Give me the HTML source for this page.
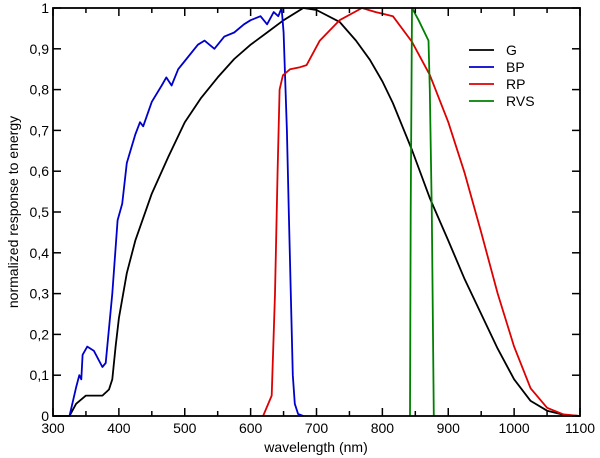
<!DOCTYPE html>
<html><head><meta charset="utf-8"><style>
body{margin:0;background:#fff}
svg{display:block;font-family:"Liberation Sans",sans-serif}
</style></head><body>
<svg id="chart" width="600" height="458"></svg>
<script>
const xTicks=[300,400,500,600,700,800,900,1000,1100];
const yTicks=[0,0.1,0.2,0.3,0.4,0.5,0.6,0.7,0.8,0.9,1];
const yTickLabels=["0","0,1","0,2","0,3","0,4","0,5","0,6","0,7","0,8","0,9","1"];
const gWl=[300,325,335,350,375,385,390,395,400,412,425,450,475,500,525,550,575,600,625,650,680,700,735,760,781,800,816,845,872,900,925,950,975,1000,1025,1050,1075,1100];
const gVal=[0,0,0.03,0.05,0.05,0.065,0.09,0.17,0.24,0.35,0.43,0.545,0.635,0.72,0.78,0.83,0.875,0.91,0.94,0.97,1.0,0.995,0.966,0.92,0.873,0.82,0.767,0.652,0.534,0.43,0.335,0.25,0.165,0.09,0.037,0.013,0.003,0];
const bpWl=[325,335,340,343,345,352,362,375,380,390,398,405,412,425,432,437,450,465,472,480,490,500,520,530,545,560,575,590,600,615,625,635,642,647,650,655,658,661,664,667,672,680];
const bpVal=[0,0.07,0.1,0.09,0.15,0.17,0.16,0.12,0.13,0.3,0.48,0.52,0.62,0.69,0.72,0.71,0.77,0.81,0.83,0.81,0.85,0.87,0.91,0.92,0.90,0.93,0.94,0.96,0.97,0.98,0.96,0.99,0.98,1.0,0.94,0.7,0.5,0.3,0.1,0.03,0.005,0];
const rpWl=[619,632,637,641,644,649,660,675,685,705,735,769,790,816,845,872,900,925,950,975,1000,1025,1050,1075,1100];
const rpVal=[0,0.05,0.3,0.6,0.8,0.835,0.85,0.855,0.86,0.92,0.97,1.0,0.99,0.98,0.917,0.836,0.72,0.595,0.45,0.30,0.17,0.068,0.02,0.004,0];
const rvsWl=[842,843,845,855,870,872,875,878];
const rvsVal=[0,0.5,1.0,0.97,0.92,0.8,0.5,0];
const legendNames=["G","BP","RP","RVS"];
const colors=["#000","#0000cc","#dd0000","#008000"];

const L=53,R=580,T=8,B=416;
const xs=v=>L+(v-300)/800*(R-L);
const ys=v=>B-v*(B-T);
const svg=document.getElementById('chart');
const NS='http://www.w3.org/2000/svg';
function mk(tag,attrs,parent){const e=document.createElementNS(NS,tag);for(const k in attrs)e.setAttribute(k,attrs[k]);(parent||svg).appendChild(e);return e;}

const series=[[gWl,gVal],[bpWl,bpVal],[rpWl,rpVal],[rvsWl,rvsVal]];
series.forEach((s,i)=>{
  const d=s[0].map((w,j)=>(j?'L':'M')+xs(w).toFixed(1)+','+ys(s[1][j]).toFixed(1)).join('');
  const p=mk('path',{d:d,fill:'none',stroke:colors[i],'stroke-width':1.8,'stroke-linejoin':'round'});
  
  
});

const frame=mk('rect',{x:L,y:T,width:R-L,height:B-T,fill:'none',stroke:'#000','stroke-width':1.8});



for(let w=300;w<=1100;w+=50){
  const maj=(w%100===0), len=maj?8:5, x=xs(w);
  mk('line',{x1:x,y1:B,x2:x,y2:B-len,stroke:'#000','stroke-width':1.5});
  mk('line',{x1:x,y1:T,x2:x,y2:T+len,stroke:'#000','stroke-width':1.5});
}
xTicks.forEach(w=>{
  const t=mk('text',{x:xs(w),y:B+17,'font-size':14,'text-anchor':'middle'});
  t.textContent=w;
  
  
});
yTicks.forEach((v,i)=>{
  const y=ys(v);
  mk('line',{x1:L,y1:y,x2:L+8,y2:y,stroke:'#000','stroke-width':1.5});
  mk('line',{x1:R,y1:y,x2:R-8,y2:y,stroke:'#000','stroke-width':1.5});
  const t=mk('text',{x:L-4,y:y+5,'font-size':14,'text-anchor':'end'});
  t.textContent=yTickLabels[i];
  
  
});
const xt=mk('text',{x:316,y:452,'font-size':14,'text-anchor':'middle'});
xt.textContent='wavelength (nm)';


const yt=mk('text',{x:0,y:0,'font-size':14,'text-anchor':'middle',transform:'translate(18,212) rotate(-90)'});
yt.textContent='normalized response to energy';



legendNames.forEach((n,i)=>{
  const y=50+i*17;
  const g=mk('g',{});
  
  
  mk('line',{x1:469,y1:y,x2:494,y2:y,stroke:colors[i],'stroke-width':1.8},g);
  const t=mk('text',{x:506,y:y+5,'font-size':14},g);
  t.textContent=n;
});
</script>
</body></html>
